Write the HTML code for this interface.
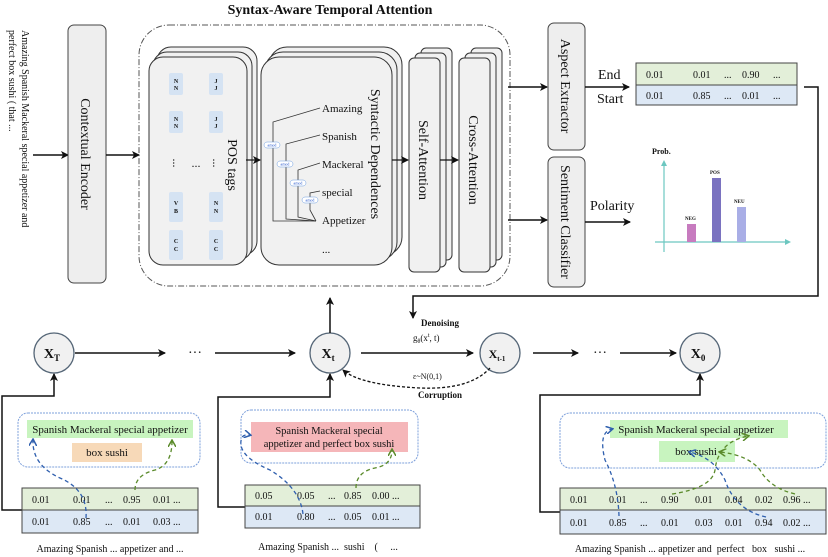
<!DOCTYPE html>
<html><head><meta charset="utf-8"><style>
html,body{margin:0;padding:0;background:#fff;width:828px;height:557px;overflow:hidden}
text{font-family:"Liberation Serif",serif;fill:#111;white-space:pre}
</style></head><body>
<svg width="828" height="557" viewBox="0 0 828 557" xmlns="http://www.w3.org/2000/svg">
<defs>
<marker id="ah" markerWidth="8" markerHeight="8" refX="7" refY="4" orient="auto" markerUnits="userSpaceOnUse"><path d="M0,0 L8,4 L0,8 L2,4 z" fill="#111"/></marker>
<marker id="ab" markerWidth="8" markerHeight="8" refX="6" refY="4" orient="auto" markerUnits="userSpaceOnUse"><path d="M0,0 L7,4 L0,8" fill="none" stroke="#2f5fae" stroke-width="1.5"/></marker>
<marker id="ag" markerWidth="8" markerHeight="8" refX="6" refY="4" orient="auto" markerUnits="userSpaceOnUse"><path d="M0,0 L7,4 L0,8" fill="none" stroke="#5a8a2a" stroke-width="1.5"/></marker>
</defs>

<text x="330" y="14" text-anchor="middle" font-size="14" font-weight="bold">Syntax-Aware Temporal Attention</text>

<!-- input text -->
<text transform="translate(22,30) rotate(90)" font-size="10">Amazing Spanish Mackeral special appetizer and</text>
<text transform="translate(9,30) rotate(90)" font-size="10">perfect box sushi ( that ...</text>
<line x1="33" y1="155" x2="68" y2="155" stroke="#111" stroke-width="1.5" marker-end="url(#ah)"/>

<!-- contextual encoder -->
<rect x="68" y="25" width="38" height="258" rx="6" fill="#eee" stroke="#444"/>
<text transform="translate(81,154) rotate(90)" font-size="14" text-anchor="middle">Contextual Encoder</text>
<line x1="106" y1="155" x2="139" y2="155" stroke="#111" stroke-width="1.5" marker-end="url(#ah)"/>

<!-- dashed outer -->
<rect x="139" y="25" width="371" height="261" rx="30" fill="none" stroke="#555" stroke-dasharray="6,2,1,2"/>

<!-- POS stack -->
<rect x="157" y="47" width="100" height="208" rx="14" fill="#f1f1f1" stroke="#333"/>
<rect x="153" y="52" width="99" height="208" rx="14" fill="#f1f1f1" stroke="#333"/>
<rect x="149" y="57" width="98" height="208" rx="14" fill="#f1f1f1" stroke="#333"/>
<g font-size="6" font-weight="bold" text-anchor="middle" fill="#333">
<rect x="169" y="73" width="14" height="22" rx="2" fill="#d5e3f3"/><rect x="209" y="73" width="14" height="22" rx="2" fill="#d5e3f3"/>
<text x="176" y="83">N</text><text x="176" y="90">N</text><text x="216" y="83">J</text><text x="216" y="90">J</text>
<rect x="169" y="111" width="14" height="22" rx="2" fill="#d5e3f3"/><rect x="209" y="111" width="14" height="22" rx="2" fill="#d5e3f3"/>
<text x="176" y="121">N</text><text x="176" y="128">N</text><text x="216" y="121">J</text><text x="216" y="128">J</text>
<rect x="169" y="192" width="14" height="30" rx="2" fill="#d5e3f3"/><rect x="209" y="192" width="14" height="30" rx="2" fill="#d5e3f3"/>
<text x="176" y="205">V</text><text x="176" y="213">B</text><text x="216" y="205">N</text><text x="216" y="213">N</text>
<rect x="169" y="230" width="14" height="30" rx="2" fill="#d5e3f3"/><rect x="209" y="230" width="14" height="30" rx="2" fill="#d5e3f3"/>
<text x="176" y="243">C</text><text x="176" y="251">C</text><text x="216" y="243">C</text><text x="216" y="251">C</text>
</g>
<g font-size="12"><text x="176" y="166" text-anchor="middle" transform="rotate(90,176,163)">...</text><text x="216" y="166" text-anchor="middle" transform="rotate(90,216,163)">...</text><text x="196" y="167" text-anchor="middle">...</text></g>
<text transform="translate(228,165) rotate(90)" font-size="14" text-anchor="middle">POS tags</text>
<line x1="246" y1="160" x2="260" y2="160" stroke="#111" stroke-width="1.2" marker-end="url(#ah)"/>

<!-- Syntactic stack -->
<rect x="269" y="47" width="133" height="208" rx="18" fill="#f1f1f1" stroke="#333"/>
<rect x="265" y="52" width="132" height="208" rx="18" fill="#f1f1f1" stroke="#333"/>
<rect x="261" y="57" width="131" height="208" rx="18" fill="#f1f1f1" stroke="#333"/>
<g font-size="11">
<text x="322" y="112">Amazing</text><text x="322" y="140">Spanish</text><text x="322" y="168">Mackeral</text><text x="322" y="196">special</text><text x="322" y="224">Appetizer</text><text x="322" y="253">...</text>
</g>
<g fill="none" stroke="#333" stroke-width="0.8">
<path d="M320,108 L273,122 L273,221 L316,221"/>
<path d="M320,135 L286,144 L286,219 L316,221"/>
<path d="M320,163 L298,170 L298,217 L316,221"/>
<path d="M320,191 L310,193 L310,210 L316,221"/>
</g>
<g font-size="4" fill="#2255cc" text-anchor="middle">
<rect x="264" y="142" width="16" height="6" rx="3" fill="#fff" stroke="#6b9be0" stroke-width="0.5"/><text x="272" y="146.5" style="fill:#2255cc">amod</text>
<rect x="277" y="161" width="16" height="6" rx="3" fill="#fff" stroke="#6b9be0" stroke-width="0.5"/><text x="285" y="165.5" style="fill:#2255cc">amod</text>
<rect x="290" y="180" width="16" height="6" rx="3" fill="#fff" stroke="#6b9be0" stroke-width="0.5"/><text x="298" y="184.5" style="fill:#2255cc">amod</text>
<rect x="302" y="197" width="16" height="6" rx="3" fill="#fff" stroke="#6b9be0" stroke-width="0.5"/><text x="310" y="201.5" style="fill:#2255cc">amod</text>
</g>
<text transform="translate(371,154) rotate(90)" font-size="14" text-anchor="middle">Syntactic Dependences</text>
<line x1="392" y1="160" x2="408" y2="160" stroke="#111" stroke-width="1.2" marker-end="url(#ah)"/>

<!-- self attention -->
<rect x="421" y="48" width="31" height="212" rx="5" fill="#f1f1f1" stroke="#333"/>
<rect x="415" y="53" width="31" height="214" rx="5" fill="#f1f1f1" stroke="#333"/>
<rect x="409" y="58" width="31" height="214" rx="5" fill="#f1f1f1" stroke="#333"/>
<text transform="translate(419,160) rotate(90)" font-size="14" text-anchor="middle">Self-Attention</text>
<line x1="440" y1="160" x2="458" y2="160" stroke="#111" stroke-width="1.2" marker-end="url(#ah)"/>
<!-- cross attention -->
<rect x="471" y="48" width="31" height="212" rx="5" fill="#f1f1f1" stroke="#333"/>
<rect x="465" y="53" width="31" height="214" rx="5" fill="#f1f1f1" stroke="#333"/>
<rect x="459" y="58" width="31" height="214" rx="5" fill="#f1f1f1" stroke="#333"/>
<text transform="translate(469,160) rotate(90)" font-size="14" text-anchor="middle">Cross-Attention</text>

<!-- to heads -->
<line x1="508" y1="87" x2="547" y2="87" stroke="#111" stroke-width="1.5" marker-end="url(#ah)"/>
<line x1="508" y1="220" x2="547" y2="220" stroke="#111" stroke-width="1.5" marker-end="url(#ah)"/>
<rect x="548" y="23" width="37" height="127" rx="6" fill="#eee" stroke="#444"/>
<text transform="translate(561,86) rotate(90)" font-size="14" text-anchor="middle">Aspect Extractor</text>
<rect x="548" y="157" width="37" height="130" rx="6" fill="#eee" stroke="#444"/>
<text transform="translate(561,222) rotate(90)" font-size="14" text-anchor="middle">Sentiment Classifier</text>

<text x="598" y="79" font-size="14">End</text>
<text x="597" y="103" font-size="14">Start</text>
<line x1="585" y1="87" x2="629" y2="87" stroke="#111" stroke-width="1.5" marker-end="url(#ah)"/>
<rect x="636" y="63" width="161" height="22" fill="#e3efd9" stroke="#444"/>
<rect x="636" y="85" width="161" height="20" fill="#dde8f5" stroke="#444"/>
<g font-size="10"><text x="646" y="78">0.01</text><text x="693" y="78">0.01</text><text x="724" y="78">...</text><text x="742" y="78">0.90</text><text x="773" y="78">...</text>
<text x="646" y="99">0.01</text><text x="693" y="99">0.85</text><text x="724" y="99">...</text><text x="742" y="99">0.01</text><text x="773" y="99">...</text></g>

<polyline points="804,87 818,87 818,296 413,296 413,318" fill="none" stroke="#111" stroke-width="1.5" marker-end="url(#ah)"/>

<text x="590" y="210" font-size="14">Polarity</text>
<line x1="585" y1="222" x2="630" y2="222" stroke="#111" stroke-width="1.5" marker-end="url(#ah)"/>
<!-- chart -->
<text x="652" y="154" font-size="8" font-weight="bold">Prob.</text>
<line x1="664" y1="252" x2="664" y2="162" stroke="#6cc7c0" stroke-width="1.2"/><path d="M661,166 L664,160 L667,166z" fill="#6cc7c0"/>
<line x1="655" y1="242" x2="788" y2="242" stroke="#6cc7c0" stroke-width="1.2"/><path d="M785,239 L791,242 L785,245z" fill="#6cc7c0"/>
<rect x="687" y="224" width="9" height="18" fill="#c77bbf"/>
<rect x="712" y="178" width="9" height="64" fill="#7a72c0"/>
<rect x="737" y="207" width="9" height="35" fill="#a9aee6"/>
<g font-size="5" font-weight="bold"><text x="685" y="220">NEG</text><text x="710" y="174">POS</text><text x="734" y="203">NEU</text></g>

<!-- diffusion chain -->
<g fill="#f1f1f1" stroke="#556677" stroke-width="1.3">
<circle cx="54" cy="353" r="20"/><circle cx="330" cy="353" r="20"/><circle cx="500" cy="353" r="20"/><circle cx="700" cy="353" r="20"/>
</g>
<g font-size="14" font-weight="bold" text-anchor="middle">
<text x="52" y="358">X<tspan font-size="9" dy="3">T</tspan></text>
<text x="328" y="358">X<tspan font-size="9" dy="3">t</tspan></text>
<text x="497" y="358" font-size="12">X<tspan font-size="7" dy="3">t-1</tspan></text>
<text x="698" y="358">X<tspan font-size="9" dy="3">0</tspan></text>
</g>
<g stroke="#111" stroke-width="1.5">
<line x1="75" y1="353" x2="165" y2="353" marker-end="url(#ah)"/>
<line x1="215" y1="353" x2="295" y2="353" marker-end="url(#ah)"/>
<line x1="361" y1="353" x2="473" y2="353" marker-end="url(#ah)"/>
<line x1="533" y1="353" x2="578" y2="353" marker-end="url(#ah)"/>
<line x1="620" y1="353" x2="676" y2="353" marker-end="url(#ah)"/>
<line x1="330" y1="333" x2="330" y2="298" marker-end="url(#ah)"/>
</g>
<text x="195" y="357" font-size="14" text-anchor="middle">···</text>
<text x="600" y="357" font-size="14" text-anchor="middle">···</text>
<text x="440" y="326" font-size="9" font-weight="bold" text-anchor="middle">Denoising</text>
<text x="413" y="341" font-size="9">g<tspan font-size="6" dy="2">θ</tspan><tspan dy="-2">(x</tspan><tspan font-size="6" dy="-4">t</tspan><tspan dy="4">, t)</tspan></text>
<text x="413" y="379" font-size="8">ε~N(0,1)</text>
<text x="440" y="398" font-size="9" font-weight="bold" text-anchor="middle">Corruption</text>
<path d="M490,368 Q470,390 420,388 Q360,385 343,370" fill="none" stroke="#111" stroke-width="1.3" stroke-dasharray="3,2" marker-end="url(#ah)"/>

<!-- connectors from panels -->
<polyline points="22,510 2,510 2,396 54,396 54,374" fill="none" stroke="#111" stroke-width="1.5" marker-end="url(#ah)"/>
<polyline points="245,507 218,507 218,397 330,397 330,374" fill="none" stroke="#111" stroke-width="1.5" marker-end="url(#ah)"/>
<polyline points="560,512 540,512 540,395 700,395 700,374" fill="none" stroke="#111" stroke-width="1.5" marker-end="url(#ah)"/>

<!-- panel 1 -->
<rect x="18" y="413" width="182" height="54" rx="10" fill="none" stroke="#7ea0db" stroke-dasharray="2,1"/>
<rect x="27" y="420" width="166" height="18" fill="#c8f4bf"/>
<text x="110" y="433" font-size="11" text-anchor="middle">Spanish Mackeral special appetizer</text>
<rect x="72" y="443" width="70" height="19" fill="#f7d9b8"/>
<text x="107" y="456" font-size="11" text-anchor="middle">box sushi</text>
<rect x="22" y="488" width="176" height="22" fill="#e3efd9" stroke="#444"/>
<rect x="22" y="510" width="176" height="23" fill="#dde8f5" stroke="#444"/>
<g font-size="10"><text x="32" y="503">0.01</text><text x="73" y="503">0.01</text><text x="105" y="503">...</text><text x="123" y="503">0.95</text><text x="153" y="503">0.01 ...</text>
<text x="32" y="525">0.01</text><text x="73" y="525">0.85</text><text x="105" y="525">...</text><text x="123" y="525">0.01</text><text x="153" y="525">0.03 ...</text></g>
<text x="110" y="552" font-size="10" text-anchor="middle">Amazing Spanish ... appetizer and ...</text>
<path d="M86,518 Q88,490 60,478 Q32,465 33,440" fill="none" stroke="#2f5fae" stroke-width="1.3" stroke-dasharray="4,3" marker-end="url(#ab)"/>
<path d="M135,490 Q135,475 155,470 Q172,465 172,441" fill="none" stroke="#5a8a2a" stroke-width="1.3" stroke-dasharray="4,3" marker-end="url(#ag)"/>

<!-- panel 2 -->
<rect x="241" y="410" width="177" height="53" rx="10" fill="none" stroke="#7ea0db" stroke-dasharray="2,1"/>
<rect x="251" y="422" width="157" height="30" fill="#f5b6b9"/>
<text x="329" y="434" font-size="10.5" text-anchor="middle">Spanish Mackeral special</text>
<text x="329" y="447" font-size="10.5" text-anchor="middle">appetizer and perfect box sushi</text>
<rect x="245" y="485" width="175" height="21" fill="#e3efd9" stroke="#444"/>
<rect x="245" y="506" width="175" height="22" fill="#dde8f5" stroke="#444"/>
<g font-size="10"><text x="255" y="499">0.05</text><text x="297" y="499">0.05</text><text x="328" y="499">...</text><text x="344" y="499">0.85</text><text x="372" y="499">0.00 ...</text>
<text x="255" y="520">0.01</text><text x="297" y="520">0.80</text><text x="328" y="520">...</text><text x="344" y="520">0.05</text><text x="372" y="520">0.01 ...</text></g>
<text x="328" y="550" font-size="10" text-anchor="middle">Amazing Spanish ...  sushi    (     ...</text>
<path d="M303,514 Q300,488 270,470 Q235,455 242,437 Q245,434 250,435" fill="none" stroke="#2f5fae" stroke-width="1.3" stroke-dasharray="4,3" marker-end="url(#ab)"/>
<path d="M356,488 Q356,472 375,468 Q392,465 392,450" fill="none" stroke="#5a8a2a" stroke-width="1.3" stroke-dasharray="4,3" marker-end="url(#ag)"/>

<!-- panel 3 -->
<rect x="560" y="413" width="266" height="55" rx="10" fill="none" stroke="#7ea0db" stroke-dasharray="2,1"/>
<rect x="610" y="420" width="178" height="18" fill="#c8f4bf"/>
<text x="696" y="433" font-size="11" text-anchor="middle">Spanish Mackeral special appetizer</text>
<rect x="659" y="441" width="76" height="21" fill="#c8f4bf"/>
<text x="696" y="455" font-size="11" text-anchor="middle">box sushi</text>
<rect x="560" y="488" width="266" height="22" fill="#e3efd9" stroke="#444"/>
<rect x="560" y="510" width="266" height="24" fill="#dde8f5" stroke="#444"/>
<g font-size="10"><text x="570" y="503">0.01</text><text x="609" y="503">0.01</text><text x="640" y="503">...</text><text x="661" y="503">0.90</text><text x="695" y="503">0.01</text><text x="725" y="503">0.04</text><text x="755" y="503">0.02</text><text x="783" y="503">0.96 ...</text>
<text x="570" y="526">0.01</text><text x="609" y="526">0.85</text><text x="640" y="526">...</text><text x="661" y="526">0.01</text><text x="695" y="526">0.03</text><text x="725" y="526">0.01</text><text x="755" y="526">0.94</text><text x="783" y="526">0.02 ...</text></g>
<text x="690" y="552" font-size="10" text-anchor="middle">Amazing Spanish ... appetizer and  perfect   box   sushi ...</text>
<path d="M619,516 Q618,485 605,460 Q598,432 612,429" fill="none" stroke="#2f5fae" stroke-width="1.3" stroke-dasharray="4,3" marker-end="url(#ab)"/>
<path d="M766,517 Q735,510 725,480 Q714,458 690,452" fill="none" stroke="#2f5fae" stroke-width="1.3" stroke-dasharray="4,3" marker-end="url(#ab)"/>
<path d="M672,494 Q712,488 715,470 Q718,442 748,436" fill="none" stroke="#5a8a2a" stroke-width="1.3" stroke-dasharray="4,3" marker-end="url(#ag)"/>
<path d="M795,494 Q770,488 760,470 Q748,455 720,452" fill="none" stroke="#5a8a2a" stroke-width="1.3" stroke-dasharray="4,3" marker-end="url(#ag)"/>
</svg>
</body></html>
